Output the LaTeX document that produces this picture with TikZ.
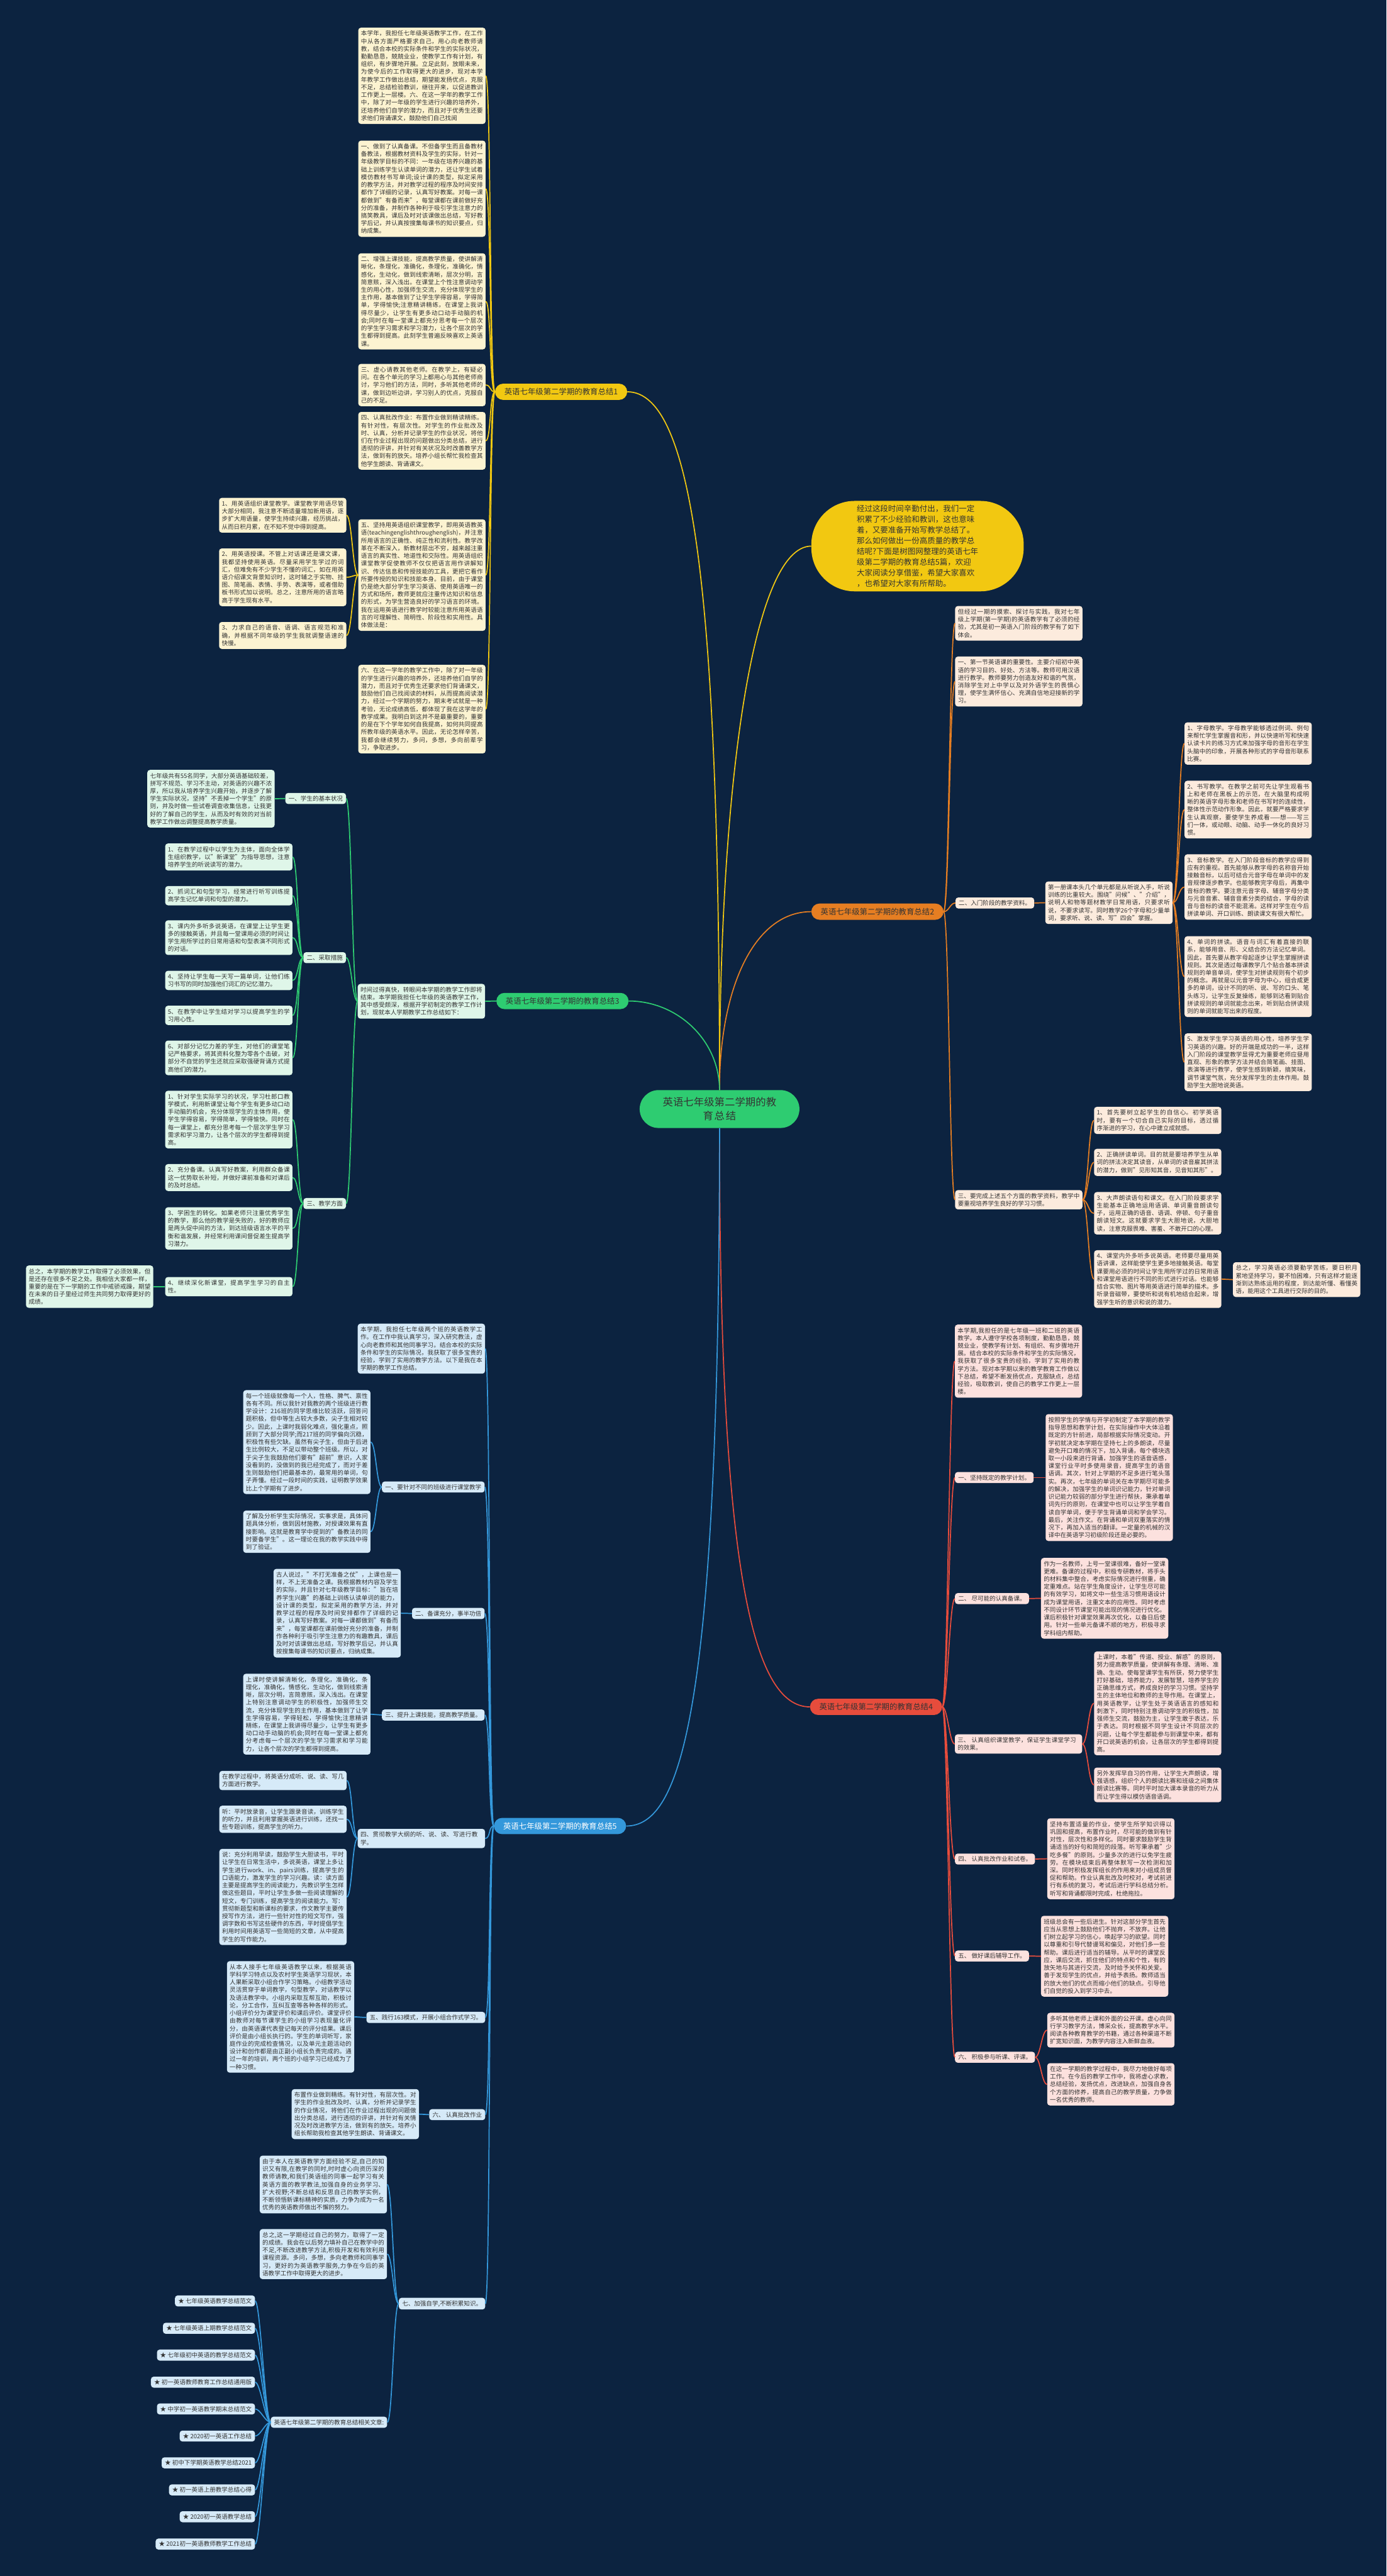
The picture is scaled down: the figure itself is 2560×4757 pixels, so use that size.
\documentclass[tikz,border=0pt]{standalone}
\usepackage{fontspec}
\setmainfont{Noto Sans CJK SC}
\XeTeXlinebreaklocale "zh"
\XeTeXlinebreakskip=0pt plus 1pt
\definecolor{bgc}{HTML}{0C2340}
\definecolor{txt}{HTML}{333333}
\definecolor{yel}{HTML}{F2C811}
\definecolor{cream}{HTML}{FCF3D1}
\definecolor{org}{HTML}{E67E22}
\definecolor{peach}{HTML}{FCEBDD}
\definecolor{grn}{HTML}{2ECC71}
\definecolor{mint}{HTML}{DFF6E9}
\definecolor{redc}{HTML}{E74C3C}
\definecolor{pink}{HTML}{FCE1DE}
\definecolor{blu}{HTML}{3498DB}
\definecolor{lblu}{HTML}{D6EAF8}
\newcommand\lf{\fontsize{11.1}{14.2}\selectfont}
\newcommand\brfont{\fontsize{14.4}{18}\selectfont}
\newcommand\linkL[3]{\draw[#1] (#2.west) .. controls +(-10,0) and +(10,0) .. (#3.east);}
\newcommand\linkR[3]{\draw[#1] (#2.east) .. controls +(10,0) and +(-10,0) .. (#3.west);}
\tikzset{
 leaf/.style={rounded corners=5pt, inner xsep=5pt, inner ysep=5.5pt, font=\lf, align=justify, text=txt, text width=225pt},
 lab/.style={rounded corners=5pt, inner xsep=6pt, inner ysep=5pt, font=\lf, text=txt},
 ly/.style={leaf, fill=cream}, lyl/.style={lab, fill=cream},
 lo/.style={leaf, fill=peach}, lol/.style={lab, fill=peach},
 lg/.style={leaf, fill=mint}, lgl/.style={lab, fill=mint},
 lr/.style={leaf, fill=pink}, lrl/.style={lab, fill=pink},
 lb/.style={leaf, fill=lblu}, lbl/.style={lab, fill=lblu},
 branch/.style={rounded corners=15pt, minimum width=244pt, minimum height=30pt, inner sep=0pt, font=\brfont, text=txt},
 cy/.style={draw=yel, line width=2pt},
 co/.style={draw=org, line width=2pt},
 cg/.style={draw=grn, line width=2pt},
 cr/.style={draw=redc, line width=2pt},
 cb/.style={draw=blu, line width=2pt},
}
\begin{document}
\begin{tikzpicture}[x=1pt,y=-1pt]
\fill[bgc] (0,0) rectangle (2560,4757);
\useasboundingbox (0,0) rectangle (2560,4757);

% center
\node[rounded corners=35pt, fill=grn, minimum width=295pt, minimum height=70pt, inner sep=0pt, text width=215pt, align=center, font=\fontsize{19}{25}\selectfont, text=txt] (ctr) at (1328.5,2048) {英语七年级第二学期的教\\育总结};

% note
\node[rounded corners=80pt, fill=yel, minimum width=392pt, minimum height=167pt, inner sep=0pt, align=left, font=\fontsize{14.5}{19.6}\selectfont, text=txt] (note) at (1694,1008.5) {经过这段时间辛勤付出，我们一定\\积累了不少经验和教训，这也意味\\着，又要准备开始写教学总结了。\\那么如何做出一份高质量的教学总\\结呢?下面是树图网整理的英语七年\\级第二学期的教育总结5篇，欢迎\\大家阅读分享借鉴，希望大家喜欢\\，也希望对大家有所帮助。};

% branch nodes
\node[branch, fill=yel] (b1) at (1036,723.5) {英语七年级第二学期的教育总结1};
\node[branch, fill=org] (b2) at (1620,1683.5) {英语七年级第二学期的教育总结2};
\node[branch, fill=grn] (b3) at (1038.5,1848.5) {英语七年级第二学期的教育总结3};
\node[branch, fill=redc] (b4) at (1617.5,3152) {英语七年级第二学期的教育总结4};
\node[branch, fill=blu, text=white] (b5) at (1034,3372) {英语七年级第二学期的教育总结5};

% ===== branch 1 =====
\node[ly] (c1) at (779,140) {本学年，我担任七年级英语教学工作，在工作中从各方面严格要求自己，用心向老教师请教，结合本校的实际条件和学生的实际状况，勤勤恳恳，兢兢业业，使教学工作有计划，有组织，有步骤地开展。立足此刻，放眼未来，为使今后的工作取得更大的进步，现对本学年教学工作做出总结，期望能发扬优点，克服不足，总结检验教训，继往开来，以促进教训工作更上一层楼。六、在这一学年的教学工作中，除了对一年级的学生进行兴趣的培养外，还培养他们自学的潜力，而且对于优秀生还要求他们背诵课文，鼓励他们自己找阅};
\node[ly] (c2) at (779,348.5) {一、做到了认真备课。不但备学生而且备教材备教法，根据教材资料及学生的实际，针对一年级教学目标的不同：一年级在培养兴趣的基础上训练学生认读单词的潜力，还让学生试着模仿教材书写单词;设计课的类型，拟定采用的教学方法，并对教学过程的程序及时间安排都作了详细的记录，认真写好教案。对每一课都做到"有备而来"，每堂课都在课前做好充分的准备，并制作各种利于吸引学生注意力的搞笑教具，课后及时对该课做出总结，写好教学后记，并认真按搜集每课书的知识要点，归纳成集。};
\node[ly] (c3) at (779,556.5) {二、增强上课技能，提高教学质量，使讲解清晰化，条理化，准确化，条理化，准确化，情感化，生动化，做到线索清晰，层次分明，言简意赅，深入浅出。在课堂上个性注意调动学生的用心性，加强师生交流，充分体现学生的主作用，基本做到了让学生学得容易，学得简单，学得愉快;注意精讲精练，在课堂上我讲得尽量少，让学生有更多动口动手动脑的机会;同时在每一堂课上都充分思考每一个层次的学生学习需求和学习潜力，让各个层次的学生都得到提高。此刻学生普遍反映喜欢上英语课。};
\node[ly] (c4) at (779,711) {三、虚心请教其他老师。在教学上，有疑必问。在各个单元的学习上都用心与其他老师商讨，学习他们的方法，同时，多听其他老师的课，做到边听边讲，学习别人的优点，克服自己的不足。};
\node[ly] (c5) at (779,814) {四、认真批改作业：布置作业做到精读精练。有针对性，有层次性。对学生的作业批改及时、认真，分析并记录学生的作业状况，将他们在作业过程出现的问题做出分类总结，进行透彻的评讲，并针对有关状况及时改善教学方法，做到有的放矢。培养小组长帮忙我检查其他学生朗读、背诵课文。};
\node[ly] (c6) at (779,1062) {五、坚持用英语组织课堂教学，即用英语教英语(teachingenglishthroughenglish)，并注意所用语言的正确性、纯正性和流利性。教学改革在不断深入，新教材层出不穷，越来越注重语言的真实性、地道性和交际性。用英语组织课堂教学促使教师不仅仅把语言用作讲解知识、传达信息和传授技能的工具，更把它看作所要传授的知识和技能本身。目前，由于课堂仍是绝大部分学生学习英语、使用英语唯一的方式和场所，教师更就应注重传达知识和信息的形式，为学生营造良好的学习语言的环境。我在运用英语进行教学时较能注意所用英语语言的可理解性、简明性、阶段性和实用性。具体做法是：};
\node[ly] (c7) at (779,1309.5) {六、在这一学年的教学工作中，除了对一年级的学生进行兴趣的培养外，还培养他们自学的潜力，而且对于优秀生还要求他们背诵课文，鼓励他们自己找阅读的材料，从而提高阅读潜力，经过一个学期的努力，期末考试就是一种考验，无论成绩高低，都体现了我在这学年的教学成果。我明白到这并不是最重要的，重要的是在下个学年如何自我提高，如何共同提高所教年级的英语水平。因此，无论怎样辛苦，我都会继续努力，多问，多想，多向前辈学习，争取进步。};
\node[ly] (c61) at (522,951.5) {1、用英语组织课堂教学。课堂教学用语尽管大部分相同，我注意不断适量增加新用语，逐步扩大用语量，使学生持续兴趣，经历挑战，从而日积月累，在不知不觉中得到提高。};
\node[ly] (c62) at (522,1066) {2、用英语授课。不管上对话课还是课文课，我都坚持使用英语。尽量采用学生学过的词汇，但难免有不少学生不懂的词汇，如在用英语介绍课文背景知识时，这时辅之于实物、挂图、简笔画、表情、手势、表演等，或者借助板书形式加以说明。总之，注意所用的语言略高于学生现有水平。};
\node[ly] (c63) at (522,1173.5) {3、力求自己的语音、语调、语言规范和准确，并根据不同年级的学生我就调整语速的快慢。};

% ===== branch 2 =====
\node[lo] (d1) at (1881,1151) {但经过一期的摸索、探讨与实践，我对七年级上学期(第一学期)的英语教学有了必须的经验，尤其是初一英语入门阶段的教学有了如下体会。};
\node[lo] (d2) at (1881,1258.5) {一、第一节英语课的重要性。主要介绍初中英语的学习目的、好处、方法等。教师可用汉语进行教学。教师要努力创造友好和谐的气氛，消除学生对上中学以及对外语学生的畏惧心理，使学生满怀信心、充满自信地迎接新的学习。};
\node[lol, anchor=west] (d3) at (1764,1667.5) {二、入门阶段的教学资料。};
\node[lo] (d3a) at (2047.5,1667) {第一册课本头几个单元都是从听说入手，听说训练的比重较大。围绕"问候"、"介绍"，说明人和物等题材教学日常用语，只要求听说，不要求读写。同时教学26个字母和少量单词，要求听、说、读、写"四会"掌握。};
\node[lo] (d3a1) at (2304.5,1373) {1、字母教学。字母教学能够透过例词、例句来帮忙学生掌握音和形，并以快速听写和快速认读卡片的练习方式来加强字母的音形在学生头脑中的印象，开展各种形式的字母音形联系比赛。};
\node[lo] (d3a2) at (2304.5,1495) {2、书写教学。在教学之前可先让学生观看书上和老师在黑板上的示范，在大脑里构成明晰的英语字母形象和老师在书写时的连续性，整体性示范动作形象。因此，就要严格要求学生认真观察，要使学生养成看——想——写三们一体，或动眼、动脑、动手一休化的良好习惯。};
\node[lo] (d3a3) at (2304.5,1638) {3、音标教学。在入门阶段音标的教学应得到应有的重视。首先能够从教字母的名称音开始接触音标，以后可结合元音字母在单词中的发音规律逐步教学。也能够教完字母后，再集中音标的教学。要注意元音字母、辅音字母分类与元音音素、辅音音素分类的结合，字母的读音与音标的读音不能混淆。这样对学生在今后拼读单词、开口训练、朗读课文有很大帮忙。};
\node[lo] (d3a4) at (2304.5,1803.5) {4、单词的拼读。语音与词汇有着直接的联系，能够用音、形、义结合的方法记忆单词。因此，首先要从教字母起逐步让学生掌握拼读规则。其次是透过每课教学几个贴合基本拼读规则的单音单词，使学生对拼读规则有个初步的概念。再就是以元音字母为中心，组合成更多的单词，设计不同的听、说、写的口头、笔头练习，让学生反复操练，能够到达看到贴合拼读规则的单词就能念出来，听到贴合拼读规则的单词就能写出来的程度。};
\node[lo] (d3a5) at (2304.5,1961.5) {5、激发学生学习英语的用心性，培养学生学习英语的兴趣。好的开端是成功的一半，这样入门阶段的课堂教学显得尤为重要老师应昼用直观、形象的教学方法并结合简笔画、挂图、表演等进行教学，使学生感到新颖，搞笑味，调节课堂气氛，充分发挥学生的主体作用。鼓励学生大胆地说英语。};
\node[lo] (d4) at (1881,2215.5) {三、要完成上述五个方面的教学资料，教学中要重视培养学生良好的学习习惯。};
\node[lo] (d41) at (2137.5,2069) {1、首先要树立起学生的自信心。初学英语时，要有一个切合自己实际的目标，透过循序渐进的学习，在心中建立成就感。};
\node[lo] (d42) at (2137.5,2146.5) {2、正确拼读单词。目的就是要培养学生从单词的拼法决定其读音，从单词的读音雇其拼法的潜力，做到"见形知其音，见音知其形"。};
\node[lo] (d43) at (2137.5,2240.5) {3、大声朗读语句和课文。在入门阶段要求学生能基本正确地运用语调、单词重音朗读句子，运用正确的语音、语调、停顿、句子重音朗读短文。这就要求学生大胆地说，大胆地读，注意克服畏难、害羞、不敢开口的心理。};
\node[lo] (d44) at (2137.5,2362) {4、课堂内外多听多说英语。老师要尽量用英语讲课，这样能使学生更多地接触英语。每堂课要用必须的时间让学生用所学过的日常用语和课堂用语进行不同的形式进行对话。也能够结合实物、图片等用英语进行简单的描术。多听录音磁带，要使听和说有机地结合起来，增强学生听的意识和说的潜力。};
\node[lo] (d44a) at (2394,2363) {总之，学习英语必须要勤学苦练，要日积月累地坚持学习，要不怕困难，只有这样才能逐渐到达熟练运用的程度，到达能听懂、看懂英语，能用这个工具进行交际的目的。};

% ===== branch 3 =====
\node[lg] (e0) at (778,1849) {时间过得真快，转眼间本学期的教学工作即将结束。本学期我担任七年级的英语教学工作，其中感受颇深，根据开学初制定的教学工作计划，现就本人学期教学工作总结如下：};
\node[lgl, anchor=east] (e1) at (639,1474.5) {一、学生的基本状况};
\node[lg] (e1a) at (389.5,1475) {七年级共有55名同学，大部分英语基础较差，拼写不规范、学习不主动，对英语的兴趣不浓厚，所以我从培养学生兴趣开始，并逐步了解学生实际状况，坚持"不丢掉一个学生"的原则，并及时做一些试卷调查收集信息，让我更好的了解自己的学生，从而及时有效的对当前教学工作做出调整提高教学质量。};
\node[lgl, anchor=east] (e2) at (639,1768.5) {二、采取措施};
\node[lg] (e21) at (422.5,1582.5) {1、在教学过程中以学生为主体，面向全体学生组织教学，以"新课堂"为指导思想，注意培养学生的听说读写的潜力。};
\node[lg] (e22) at (422.5,1654) {2、抓词汇和句型学习，经常进行听写训练提高学生记忆单词和句型的潜力。};
\node[lg] (e23) at (422.5,1731.5) {3、课内外多听多说英语，在课堂上让学生更多的接触英语，并且每一堂课用必须的时间让学生用所学过的日常用语和句型表演不同形式的对话。};
\node[lg] (e24) at (422.5,1810.5) {4、坚持让学生每一天写一篇单词，让他们练习书写的同时加强他们词汇的记忆潜力。};
\node[lg] (e25) at (422.5,1875) {5、在教学中让学生结对学习以提高学生的学习用心性。};
\node[lg] (e26) at (422.5,1953.5) {6、对部分记忆力差的学生，对他们的课堂笔记严格要求，将其资料化整为零各个击破，对部分不自觉的学生还就应采取强硬背诵方式提高他们的潜力。};
\node[lgl, anchor=east] (e3) at (639,2222.5) {三、教学方面};
\node[lg] (e31) at (422.5,2067.5) {1、针对学生实际学习的状况，学习杜郎口教学模式，利用新课堂让每个学生有更多动口动手动脑的机会，充分体现学生的主体作用，使学生学得容易，学得简单，学得愉快。同时在每一课堂上，都充分思考每一个层次学生学习需求和学习潜力，让各个层次的学生都得到提高。};
\node[lg] (e32) at (422.5,2174.5) {2、充分备课。认真写好教案，利用群众备课这一优势取长补短，并做好课前准备和对课后的及时总结。};
\node[lg] (e33) at (422.5,2268.5) {3、学困生的转化。如果老师只注重优秀学生的教学，那么他的教学是失败的，好的教师应是两头促中间的方法，到达班级语言水平的平衡和谐发展，并经常利用课间督促差生提高学习潜力。};
\node[lg] (e34) at (422.5,2376) {4、继续深化新课堂，提高学生学习的自主性。};
\node[lg] (e34a) at (165.5,2376) {总之，本学期的教学工作取得了必须效果，但是还存在很多不足之处。我相信大家都一样，重要的是在下一学期的工作中戒骄戒躁，期望在未来的日子里经过师生共同努力取得更好的成绩。};

% ===== branch 4 =====
\node[lr] (f0) at (1880.5,2513.5) {本学期,我担任的是七年级一班和二班的英语教学。本人遵守学校各项制度，勤勤恳恳，兢兢业业，使教学有计划、有组织、有步骤地开展。结合本校的实际条件和学生的实际情况，我获取了很多宝贵的经验，学到了实用的教学方法。现对本学期以来的教学教育工作做以下总结，希望不断发扬优点，克服缺点，总结经验，吸取教训，使自己的教学工作更上一层楼。};
\node[lrl, anchor=west] (f1) at (1763,2728.5) {一、坚持既定的教学计划。};
\node[lr] (f1a) at (2048,2728.5) {按照学生的学情与开学初制定了本学期的教学指导思想和教学计划，在实际操作中大体沿着既定的方针前进，局部根据实际情况变动。开学初就决定本学期在坚持七上的多朗读，尽量避免开口难的情况下，加入背诵，每个模块选取一小段来进行背诵，加强学生的语音语感，课堂行业平时多使用录音，提高学生的语音语调。其次，针对上学期的不足多进行笔头落实。再次，七年级的单词关在本学期尽可能多的解决，加强学生的单词识记能力，针对单词识记能力较弱的部分学生进行帮扶，秉承着单词先行的原则，在课堂中也可以让学生学着自读自学单词，便于学生背诵单词和学会学习。最后，关注作文。在背诵和单词双重落实的情况下，再加入适当的翻译。一定量的机械的汉译中在英语学习初级阶段还是必要的。};
\node[lrl, anchor=west] (f2) at (1763,2952) {二、 尽可能的认真备课。};
\node[lr] (f2a) at (2039.5,2951.5) {作为一名教师，上号一堂课很难，备好一堂课更难。备课的过程中，积极专研教材，将手头的材料集中整合，考虑实际情况进行侧重，确定重难点。站在学生角度设计，让学生尽可能的有效学习，如将文中一些生活习惯用语设计成为课堂用语，注重文本的应用性。同时考虑不同设计环节课堂可能出现的情况进行优化。课后积极针对课堂效果再次优化，以备日后使用。针对一些单元备课不顺的地方，积极寻求学科组内帮助。};
\node[lr, align=left] (f3) at (1880.5,3220.5) {三、 认真组织课堂教学，保证学生课堂学习的效果。};
\node[lr] (f3a) at (2137.5,3145.5) {上课时，本着"传道、授业、解惑"的原则，努力提高教学质量，使讲解有条理、清晰、准确、生动。使每堂课学生有所获，努力使学生打好基础，培养能力，发展智慧，培养学生的正确思维方式，养成良好的学习习惯。坚持学生的主体地位和教师的主导作用。在课堂上，用英语教学，让学生处于英语语言的感知和刺激下，同时特别注意调动学生的积极性，加强师生交流，鼓励为主，让学生敢于表达，乐于表达。同时根据不同学生设计不同层次的问题，让每个学生都能参与到课堂中来，都有开口说英语的机会，让各层次的学生都得到提高。};
\node[lr] (f3b) at (2137.5,3296) {另外发挥早自习的作用，让学生大声朗读，增强语感，组织个人的朗读比赛和班级之间集体朗读比赛等。同时平时加大课本录音的听力从而让学生得以模仿语音语调。};
\node[lrl, anchor=west] (f4) at (1763,3433) {四、 认真批改作业和试卷。};
\node[lr] (f4a) at (2051,3432.5) {坚持布置适量的作业，使学生所学知识得以巩固和提高，布置作业时，尽可能的做到有针对性，层次性和多样化。同时要求鼓励学生背诵适当的好句和简短的段落。听写秉承着"少吃多餐"的原则。少量多次的进行以免学生疲劳。在模块结束后再整体默写一次检测和加深。同时积极发挥组长的作用来对小组成员督促和帮助。作业认真批改及时校对，考试前进行有系统的复习，考试后进行学科总结分析。听写和背诵都限时完成，杜绝拖拉。};
\node[lrl, anchor=west] (f5) at (1763,3612) {五、 做好课后辅导工作。};
\node[lr] (f5a) at (2039.5,3612.5) {班级总会有一些后进生。针对这部分学生首先应当从思想上鼓励他们不抛弃，不放弃。让他们树立起学习的信心，唤起学习的欲望。同时以尊重和引导代替谩骂和偏见，对他们多一些帮助。课后进行适当的辅导。从平时的课堂反应，课后交流，抓住他们的特点和个性，有的放矢地与其进行交流，及时给予关怀和关爱。善于发现学生的优点，并给予表扬。教师适当的放大他们的优点而缩小他们的缺点。引导他们自觉的投入到学习中去。};
\node[lrl, anchor=west] (f6) at (1763,3799) {六、 积极参与听课、评课。};
\node[lr] (f6a) at (2051,3749) {多听其他老师上课和外面的公开课。虚心向同行学习教学方法，博采众长，提高教学水平。阅读各种教育教学的书籍，通过各种渠道不断扩宽知识面，为教学内容注入新鲜血液。};
\node[lr] (f6b) at (2051,3849) {在这一学期的教学过程中，我尽力地做好每项工作。在今后的教学工作中，我将虚心求教，总结经验，发扬优点，改进缺点，加强自身各个方面的修养，提高自己的教学质量，力争做一名优秀的教师。};

% ===== branch 5 =====
\node[lb] (g0) at (778,2490.5) {本学期，我担任七年级两个班的英语教学工作。在工作中我认真学习，深入研究教法，虚心向老教师和其他同事学习。结合本校的实际条件和学生的实际情况，我获取了很多宝贵的经验，学到了实用的教学方法。以下是我在本学期的教学工作总结。};
\node[lbl, anchor=east] (g1) at (895,2746) {一、要针对不同的班级进行课堂教学};
\node[lb] (g1a) at (566.5,2663) {每一个班级就像每一个人，性格、脾气、禀性各有不同。所以我针对我教的两个班级进行教学设计：216班的同学思维比较活跃，回答问题积极，但中等生占较大多数，尖子生相对较少。因此，上课时我弱化难点，强化重点，照顾到了大部分同学;而217班的同学偏向沉稳，积极性有些欠缺。虽然有尖子生，但由于后进生比例较大，不足以带动整个班级。所以，对于尖子生我鼓励他们要有"超前"意识，人家没看到的，没做到的我已经完成了，而对于差生则鼓励他们把最基本的，最常用的单词，句子弄懂。经过一段时间的实践，证明教学效果比上个学期有了进步。};
\node[lb] (g1b) at (566.5,2828.5) {了解及分析学生实际情况，实事求是，具体问题具体分析，做到因材施教，对授课效果有直接影响。这就是教育学中提到的"备教法的同时要备学生"。这一理论在我的教学实践中得到了验证。};
\node[lbl, anchor=east] (g2) at (895,2979.5) {二、备课充分，事半功倍};
\node[lb] (g2a) at (622.5,2979) {古人说过，"不打无准备之仗"，上课也是一样，不上无准备之课。我根据教材内容及学生的实际，并且针对七年级教学目标："旨在培养学生兴趣"的基础上训练认读单词的能力，设计课的类型，拟定采用的教学方法，并对教学过程的程序及时间安排都作了详细的记录，认真写好教案。对每一课都做到"有备而来"，每堂课都在课前做好充分的准备，并制作各种利于吸引学生注意力的有趣教具，课后及时对该课做出总结，写好教学后记，并认真按搜集每课书的知识要点，归纳成集。};
\node[lbl, anchor=east] (g3) at (895,3167) {三、提升上课技能，提高教学质量。};
\node[lb] (g3a) at (566.5,3165.5) {上课时使讲解清晰化，条理化，准确化，条理化，准确化，情感化，生动化，做到线索清晰，层次分明，言简意赅，深入浅出。在课堂上特别注意调动学生的积极性，加强师生交流，充分体现学生的主作用，基本做到了让学生学得容易，学得轻松，学得愉快;注意精讲精练，在课堂上我讲得尽量少，让学生有更多动口动手动脑的机会;同时在每一堂课上都充分考虑每一个层次的学生学习需求和学习能力，让各个层次的学生都得到提高。};
\node[lb, align=left] (g4) at (778,3395) {四、贯彻教学大纲的听、说、读、写进行教学。};
\node[lb] (g4a) at (522.5,3288) {在教学过程中，将英语分成听、说、读、写几方面进行教学。};
\node[lb] (g4b) at (522.5,3359.5) {听：平时放录音，让学生跟录音读，训练学生的听力，并且利用掌握英语进行训练，还找一些专题训练，提高学生的听力。};
\node[lb] (g4c) at (522.5,3503) {说：充分利用早读，鼓励学生大胆读书，平时让学生在日常生活中，多说英语，课堂上多让学生进行work、in、pairs训练，提高学生的口语能力，激发学生的学习兴趣。读：读方面主要是提高学生的阅读能力，先教识学生怎样做这些题目，平时让学生多做一些阅读理解的短文，专门训练，提高学生的阅读能力。写：贯彻新题型和新课标的要求，作文教学主要传授写作方法，进行一些针对性的短文写作，强调字数和书写这些硬件的东西，平时提倡学生利用时间用英语写一些简短的文章，从中提高学生的写作能力。};
\node[lbl, anchor=east] (g5) at (896,3725.5) {五、践行163模式，开展小组合作式学习。};
\node[lb] (g5a) at (536.5,3724.5) {从本人接手七年级英语教学以来，根据英语学科学习特点以及农村学生英语学习现状，本人果断采取小组合作学习策略。小组教学活动灵活贯穿于单词教学，句型教学，对话教学以及语法教学中。小组内采取互帮互助，积极讨论，分工合作，互纠互查等各种各样的形式。小组评价分为课堂评价和课后评价。课堂评价由教师对每节课学生的小组学习表现量化评分，由英语课代表登记每天的评分结果。课后评价是由小组长执行的。学生的单词听写，家庭作业的完成检查情况，以及单元主题活动的设计和创作都是由正副小组长负责完成的。通过一年的培训，两个班的小组学习已经成为了一种习惯。};
\node[lbl, anchor=east] (g6) at (896,3905) {六、 认真批改作业};
\node[lb] (g6a) at (656,3904) {布置作业做到精练。有针对性，有层次性。对学生的作业批改及时、认真，分析并记录学生的作业情况，将他们在作业过程出现的问题做出分类总结，进行透彻的评讲，并针对有关情况及时改进教学方法，做到有的放矢。培养小组长帮助我检查其他学生朗读、背诵课文。};
\node[lbl, anchor=east] (g7) at (896,4254) {七、加强自学,不断积累知识。};
\node[lb] (g7a) at (597,4034) {由于本人在英语教学方面经验不足,自己的知识又有限,在教学的同时,时时虚心向资历深的教师请教,和我们英语组的同事一起学习有关英语方面的教学教法,加强自身的业务学习、扩大视野;不断总结和反思自己的教学实例，不断领悟新课标精神的实质，力争为成为一名优秀的英语教师做出不懈的努力。};
\node[lb] (g7b) at (597,4162.5) {总之,这一学期经过自己的努力，取得了一定的成绩。我会在以后努力填补自己在教学中的不足,不断改进教学方法,积极开发和有效利用课程资源。多问，多想，多向老教师和同事学习，更好的为英语教学服务,力争在今后的英语教学工作中取得更大的进步。};
\node[lbl, anchor=east] (g7c) at (715,4473) {英语七年级第二学期的教育总结相关文章:};
\node[lbl, anchor=east] (h1) at (471,4249) {★ 七年级英语教学总结范文};
\node[lbl, anchor=east] (h2) at (471,4299.5) {★ 七年级英语上期教学总结范文};
\node[lbl, anchor=east] (h3) at (471,4349) {★ 七年级初中英语的教学总结范文};
\node[lbl, anchor=east] (h4) at (471,4399) {★ 初一英语教师教育工作总结通用版};
\node[lbl, anchor=east] (h5) at (471,4448.5) {★ 中学初一英语教学期末总结范文};
\node[lbl, anchor=east] (h6) at (471,4498.5) {★ 2020初一英语工作总结};
\node[lbl, anchor=east] (h7) at (471,4548) {★ 初中下学期英语教学总结2021};
\node[lbl, anchor=east] (h8) at (471,4598) {★ 初一英语上册教学总结心得};
\node[lbl, anchor=east] (h9) at (471,4647.5) {★ 2020初一英语教学总结};
\node[lbl, anchor=east] (h10) at (471,4698) {★ 2021初一英语教师教学工作总结};

% ===== main connectors =====
\draw[cy] (ctr.north) .. controls (1328,1100) and (1280,723.5) .. (b1.east);
\draw[cy] (ctr.north) .. controls (1328,1450) and (1390,1008.5) .. (note.west);
\draw[co] (ctr.north) .. controls (1328,1830) and (1390,1683.5) .. (b2.west);
\draw[cg] (ctr.north) .. controls (1328,1920) and (1250,1848.5) .. (b3.east);
\draw[cr] (ctr.south) .. controls (1328,2900) and (1390,3152) .. (b4.west);
\draw[cb] (ctr.south) .. controls (1328,3150) and (1260,3372) .. (b5.east);

% branch 1 links
\foreach \n in {c1,c2,c3,c4,c5,c6,c7} {\linkL{cy}{b1}{\n}}
\foreach \n in {c61,c62,c63} {\linkL{cy}{c6}{\n}}
% branch 2 links
\foreach \n in {d1,d2,d3,d4} {\linkR{co}{b2}{\n}}
\linkR{co}{d3}{d3a}
\foreach \n in {d3a1,d3a2,d3a3,d3a4,d3a5} {\linkR{co}{d3a}{\n}}
\foreach \n in {d41,d42,d43,d44} {\linkR{co}{d4}{\n}}
\linkR{co}{d44}{d44a}
% branch 3 links
\linkL{cg}{b3}{e0}
\foreach \n in {e1,e2,e3} {\linkL{cg}{e0}{\n}}
\linkL{cg}{e1}{e1a}
\foreach \n in {e21,e22,e23,e24,e25,e26} {\linkL{cg}{e2}{\n}}
\foreach \n in {e31,e32,e33,e34} {\linkL{cg}{e3}{\n}}
\linkL{cg}{e34}{e34a}
% branch 4 links
\foreach \n in {f0,f1,f2,f3,f4,f5,f6} {\linkR{cr}{b4}{\n}}
\linkR{cr}{f1}{f1a}
\linkR{cr}{f2}{f2a}
\linkR{cr}{f3}{f3a}
\linkR{cr}{f3}{f3b}
\linkR{cr}{f4}{f4a}
\linkR{cr}{f5}{f5a}
\linkR{cr}{f6}{f6a}
\linkR{cr}{f6}{f6b}
% branch 5 links
\foreach \n in {g0,g1,g2,g3,g4,g5,g6,g7} {\linkL{cb}{b5}{\n}}
\foreach \n in {g1a,g1b} {\linkL{cb}{g1}{\n}}
\linkL{cb}{g2}{g2a}
\linkL{cb}{g3}{g3a}
\foreach \n in {g4a,g4b,g4c} {\linkL{cb}{g4}{\n}}
\linkL{cb}{g5}{g5a}
\linkL{cb}{g6}{g6a}
\foreach \n in {g7a,g7b,g7c} {\linkL{cb}{g7}{\n}}
\foreach \n in {h1,h2,h3,h4,h5,h6,h7,h8,h9,h10} {\linkL{cb}{g7c}{\n}}
\end{tikzpicture}
\end{document}
